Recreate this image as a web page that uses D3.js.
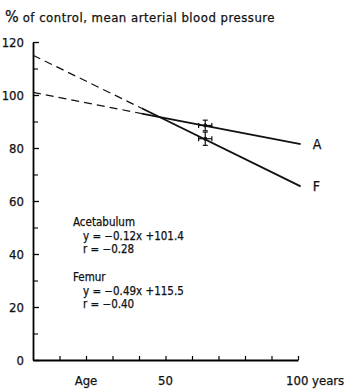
<!DOCTYPE html>
<html>
<head>
<script src="https://d3js.org/d3.v7.min.js"></script>
<style>
  body { margin: 0; background: #fff; }
  svg text { font-family: 'DejaVu Sans Condensed', 'Liberation Sans', sans-serif; fill: #111; stroke: #111; stroke-width: 0.25; }
</style>
</head>
<body>
<div id="chart"></div>
<script>
// values
const yMajor = [0, 20, 40, 60, 80, 100, 120];
const yMinor = [10, 30, 50, 70, 90, 110];
const xTicks = [10, 20, 30, 40, 50, 60, 70, 80, 90, 100];
const xLabels = [{v: 20, t: "Age"}, {v: 50, t: "50"}, {v: 100, t: "100 years"}];

const acetDashed = [[0, 101], [41, 93]];
const acetSolid = [[41, 93], [101, 81.5]];
const femDashed = [[0, 115], [41, 95]];
const femSolid = [[41, 95], [101, 65.5]];

// mean with error bars: [age, value, ageErr, valueErr]
const meanPoints = [[65, 88.5, 2.5, 2], [65, 83.5, 2.5, 2.5]];

const notes = [
  {t: "Acetabulum", dx: 0, line: 0},
  {t: "y = \u22120.12x +101.4", dx: 10, line: 1},
  {t: "r = \u22120.28", dx: 10, line: 2},
  {t: "Femur", dx: 0, line: 4},
  {t: "y = \u22120.49x +115.5", dx: 10, line: 5},
  {t: "r = \u22120.40", dx: 10, line: 6}
];

const W = 351, H = 389;
const svg = d3.select("#chart").append("svg")
  .attr("width", W).attr("height", H);

const x = d3.scaleLinear().domain([0, 100]).range([33, 298]);
const y = d3.scaleLinear().domain([0, 120]).range([360, 42]);

// title
const title = svg.append("text").attr("x", 5).attr("y", 22);
title.append("tspan").attr("font-size", 16).text("%");
title.append("tspan").attr("font-size", 13).attr("dx", 4)
  .style("letter-spacing", "0.5px")
  .text("of control,  mean arterial  blood  pressure");

// y axis
const yAx = svg.append("g").attr("transform", "translate(" + x(0) + ",0)")
  .call(d3.axisLeft(y).tickValues(yMajor).tickSize(-6).tickSizeOuter(0).tickPadding(9));
yAx.select(".domain").attr("stroke-width", 1.8);
yAx.selectAll(".tick line").attr("stroke-width", 1.3);
yAx.selectAll("text").attr("font-size", 13).style("font-family", "'DejaVu Sans Condensed', sans-serif");

svg.append("g").attr("transform", "translate(" + x(0) + ",0)")
  .call(d3.axisLeft(y).tickValues(yMinor).tickSize(-5).tickFormat(""))
  .call(g => g.select(".domain").remove())
  .selectAll(".tick line").attr("stroke-width", 1.1);

// x axis
const xAx = svg.append("g").attr("transform", "translate(0," + y(0) + ")")
  .call(d3.axisBottom(x).tickValues(xTicks).tickSize(-4).tickSizeOuter(0).tickFormat(""));
xAx.select(".domain").attr("stroke-width", 1.8);
xAx.selectAll(".tick line").attr("stroke-width", 1.2);

svg.selectAll(".xlab").data(xLabels).enter().append("text")
  .attr("class", "xlab")
  .attr("x", d => d.v === 100 ? x(d.v) - 12 : x(d.v))
  .attr("y", 385)
  .attr("text-anchor", d => d.v === 100 ? "start" : "middle")
  .attr("font-size", 13)
  .text(d => d.t);

// regression lines
const line = d3.line().x(d => x(d[0])).y(d => y(d[1]));
[acetDashed, femDashed].forEach(d => {
  svg.append("path").attr("d", line(d)).attr("fill", "none")
    .attr("stroke", "#111").attr("stroke-width", 1.2).attr("stroke-dasharray", "8,5");
});
[acetSolid, femSolid].forEach(d => {
  svg.append("path").attr("d", line(d)).attr("fill", "none")
    .attr("stroke", "#111").attr("stroke-width", 1.8);
});

// error bars
meanPoints.forEach(p => {
  const g = svg.append("g").attr("stroke", "#111").attr("stroke-width", 1.2);
  g.append("line").attr("x1", x(p[0])).attr("x2", x(p[0]))
    .attr("y1", y(p[1] - p[3])).attr("y2", y(p[1] + p[3]));
  g.append("line").attr("x1", x(p[0]) - 2.5).attr("x2", x(p[0]) + 2.5)
    .attr("y1", y(p[1] - p[3])).attr("y2", y(p[1] - p[3]));
  g.append("line").attr("x1", x(p[0]) - 2.5).attr("x2", x(p[0]) + 2.5)
    .attr("y1", y(p[1] + p[3])).attr("y2", y(p[1] + p[3]));
  g.append("line").attr("x1", x(p[0] - p[2])).attr("x2", x(p[0] + p[2]))
    .attr("y1", y(p[1])).attr("y2", y(p[1]));
  g.append("line").attr("x1", x(p[0] - p[2])).attr("x2", x(p[0] - p[2]))
    .attr("y1", y(p[1]) - 2.5).attr("y2", y(p[1]) + 2.5);
  g.append("line").attr("x1", x(p[0] + p[2])).attr("x2", x(p[0] + p[2]))
    .attr("y1", y(p[1]) - 2.5).attr("y2", y(p[1]) + 2.5);
  svg.append("circle").attr("cx", x(p[0])).attr("cy", y(p[1])).attr("r", 2).attr("fill", "#111");
});

// line labels
svg.append("text").attr("x", x(101) + 12).attr("y", y(81.5) + 5).attr("font-size", 14).text("A");
svg.append("text").attr("x", x(101) + 12).attr("y", y(65.5) + 5).attr("font-size", 14).text("F");

// equations
svg.selectAll(".note").data(notes).enter().append("text")
  .attr("class", "note")
  .attr("x", d => 73 + d.dx)
  .attr("y", d => 226 + d.line * 13.7)
  .attr("font-size", 11.5)
  .text(d => d.t);
</script>
</body>
</html>
